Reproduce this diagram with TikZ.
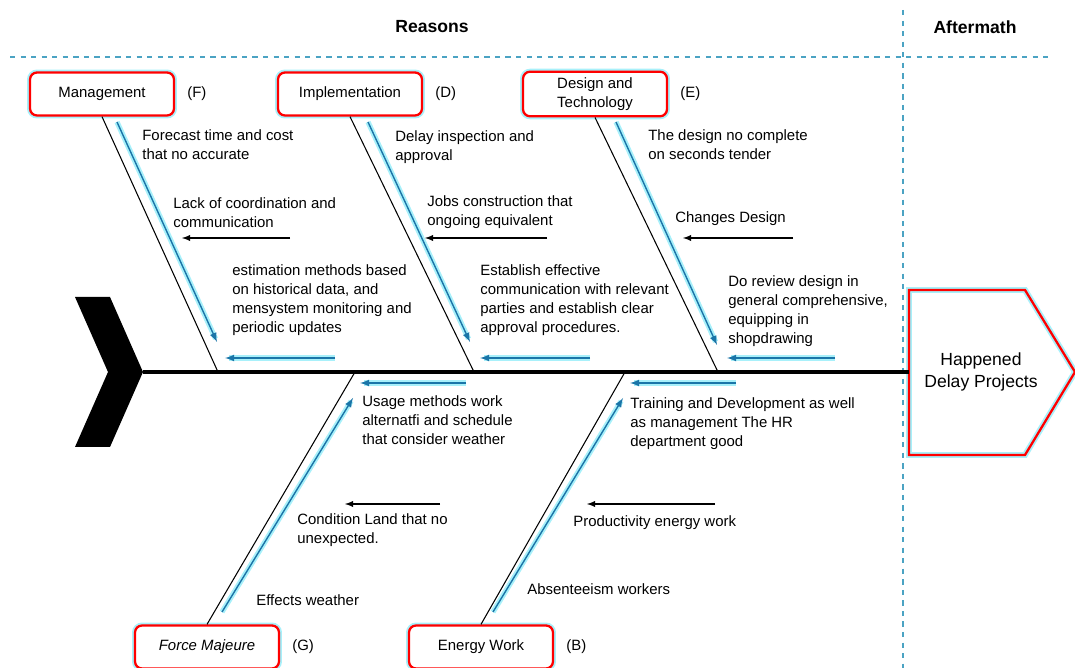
\documentclass[tikz,border=0pt]{standalone}
\usepackage{fontspec}
\setmainfont{Liberation Sans}
\usetikzlibrary{positioning,arrows.meta}

\definecolor{pfeilblau}{HTML}{1B75A8}
\definecolor{halo}{HTML}{A8F0FA}
\definecolor{trennlinie}{HTML}{4BA3C3}

\begin{document}
\begin{tikzpicture}[x=0.02cm,y=-0.02cm,>=latex,
	font=\fontsize{8.5}{10.8}\selectfont,
	kategorie/.style={draw=red,line width=1.3pt,rounded corners=4pt,
		minimum width=2.88cm,minimum height=0.86cm,align=center,fill=white,
		preaction={draw=halo,line width=3.4pt}},
	kennung/.style={right=0.12cm of #1},
	notiz/.style={anchor=north west,inner sep=0pt,align=left},
	graete/.style={line width=0.6pt},
	blaupfeil/.style={->,draw=pfeilblau,line width=0.8pt,
		preaction={draw=halo,line width=3pt,-,shorten >=2pt}},
	pfeil/.style={->,line width=0.6pt}
]

\useasboundingbox (0,0) rectangle (1075,668);

% Kopfzeile
\draw[trennlinie,dashed,line width=0.8pt] (10,57) -- (1050,57);
\draw[trennlinie,dashed,line width=0.8pt] (903,10) -- (903,668);
\node[font=\fontsize{10}{12}\selectfont\bfseries] (reasons) at (432,27) {Reasons};
\node[font=\fontsize{10}{12}\selectfont\bfseries] (aftermath) at (975,27) {Aftermath};

% Fischkopf und Schwanz
\fill (75,297) -- (110,297) -- (143,372) -- (110,447) -- (75,447) -- (108,372) -- cycle;
\draw[red,line width=1.3pt,preaction={draw=halo,line width=3.4pt}]
	(909,290) -- (1025,290) -- (1075,372) -- (1025,455) -- (909,455) -- cycle;
\node[font=\fontsize{10}{12.5}\selectfont,align=center] (folge) at (981,372)
	{Happened\\Delay Projects};

\coordinate (tail) at (143,372);
\coordinate (head) at (909,372);
\draw[line width=1.8pt] (tail) -- (head);

% Kategorien
\node[kategorie] (mgmt) at (102,94) {Management};
\node[kategorie] (impl) at (350,94) {Implementation};
\node[kategorie] (design) at (595,94) {Design and\\Technology};
\node[kategorie] (force) at (207,647) {\itshape Force Majeure};
\node[kategorie] (energy) at (481,647) {Energy Work};

\node[kennung=mgmt] (mgmtid) {(F)};
\node[kennung=impl] (implid) {(D)};
\node[kennung=design] (designid) {(E)};
\node[kennung=force] (forceid) {(G)};
\node[kennung=energy] (energyid) {(B)};

% Graeten
\coordinate (mgmtend) at (218,372);
\coordinate (implend) at (474,372);
\coordinate (designend) at (718,372);
\coordinate (forceend) at (355,372);
\coordinate (energyend) at (625,372);
\draw[graete] (mgmt.south) -- (mgmtend);
\draw[graete] (impl.south) -- (implend);
\draw[graete] (design.south) -- (designend);
\draw[graete] (force.north) -- (forceend);
\draw[graete] (energy.north) -- (energyend);

% blaue Pfeile entlang der Graeten
\coordinate (m1) at (117,122);  \coordinate (m2) at (217,342);
\coordinate (i1) at (368,122);  \coordinate (i2) at (470,342);
\coordinate (d1) at (616,122);  \coordinate (d2) at (717,345);
\coordinate (f1) at (222,612);  \coordinate (f2) at (353,398);
\coordinate (e1) at (493,612);  \coordinate (e2) at (623,398);
\draw[blaupfeil] (m1) -- (m2);
\draw[blaupfeil] (i1) -- (i2);
\draw[blaupfeil] (d1) -- (d2);
\draw[blaupfeil] (f1) -- (f2);
\draw[blaupfeil] (e1) -- (e2);

% blaue Pfeile zur Hauptgraete
\coordinate (ma) at (335,358);  \coordinate (mb) at (225,358);
\coordinate (ia) at (590,358);  \coordinate (ib) at (480,358);
\coordinate (da) at (835,358);  \coordinate (db) at (727,358);
\coordinate (fa) at (466,383);  \coordinate (fb) at (360,383);
\coordinate (ea) at (736,383);  \coordinate (eb) at (630,383);
\draw[blaupfeil] (ma) -- (mb);
\draw[blaupfeil] (ia) -- (ib);
\draw[blaupfeil] (da) -- (db);
\draw[blaupfeil] (fa) -- (fb);
\draw[blaupfeil] (ea) -- (eb);

% schwarze Pfeile
\coordinate (ms) at (290,238);  \coordinate (mt) at (182,238);
\coordinate (is) at (547,238);  \coordinate (it) at (425,238);
\coordinate (ds) at (793,238);  \coordinate (dt) at (683,238);
\coordinate (fs) at (440,504);  \coordinate (ft) at (345,504);
\coordinate (es) at (715,504);  \coordinate (et) at (587,504);
\draw[pfeil] (ms) -- (mt);
\draw[pfeil] (is) -- (it);
\draw[pfeil] (ds) -- (dt);
\draw[pfeil] (fs) -- (ft);
\draw[pfeil] (es) -- (et);

% Ursachen
\node[notiz] (forecast) at (142,129) {Forecast time and cost\\that no accurate};
\node[notiz] (lack) at (173,197) {Lack of coordination and\\communication};
\node[notiz] (estim) at (232,264) {estimation methods based\\on historical data, and\\mensystem monitoring and\\periodic updates};
\node[notiz] (delay) at (395,130) {Delay inspection and\\approval};
\node[notiz] (jobs) at (427,195) {Jobs construction that\\ongoing equivalent};
\node[notiz] (establish) at (480,264) {Establish effective\\communication with relevant\\parties and establish clear\\approval procedures.};
\node[notiz] (incomplete) at (648,129) {The design no complete\\on seconds tender};
\node[notiz] (changes) at (675,211) {Changes Design};
\node[notiz] (review) at (728,275) {Do review design in\\general comprehensive,\\equipping in\\shopdrawing};
\node[notiz] (usage) at (362,395) {Usage methods work\\alternatfi and schedule\\that consider weather};
\node[notiz] (training) at (630,397) {Training and Development as well\\as management The HR\\department good};
\node[notiz] (condition) at (297,513) {Condition Land that no\\unexpected.};
\node[notiz] (effects) at (256,594) {Effects weather};
\node[notiz] (productivity) at (573,515) {Productivity energy work};
\node[notiz] (absent) at (527,583) {Absenteeism workers};

\end{tikzpicture}
\end{document}
